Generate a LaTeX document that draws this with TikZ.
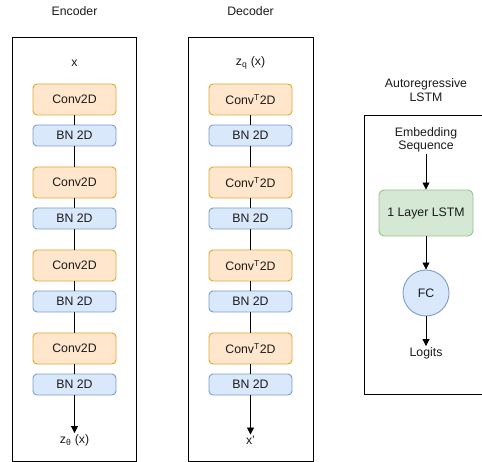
\documentclass[tikz,border=0pt]{standalone}
\usepackage{fontspec}
\setmainfont{Liberation Sans}
\usetikzlibrary{arrows.meta}
\definecolor{ofill}{HTML}{FFE6CC}
\definecolor{ostroke}{HTML}{E0A82E}
\definecolor{bfill}{HTML}{DAE8FC}
\definecolor{bstroke}{HTML}{7C9CCB}
\definecolor{gfill}{HTML}{D5E8D4}
\definecolor{gstroke}{HTML}{97C38A}
\definecolor{txt}{HTML}{1A1A1A}
\begin{document}
\begin{tikzpicture}[x=1pt,y=-1pt,
  font=\fontsize{12.3}{14.4}\selectfont, text=txt,
  frame/.style={draw=black, line width=0.9pt},
  conv/.style={draw=ostroke, fill=ofill, rounded corners=4pt, line width=0.9pt, minimum width=83pt, minimum height=31pt, inner sep=0pt},
  bn/.style={draw=bstroke, fill=bfill, rounded corners=4pt, line width=0.9pt, minimum width=83pt, minimum height=21pt, inner sep=0pt},
  lbl/.style={inner sep=1pt, align=center},
  link/.style={draw=black, line width=0.8pt},
  arr/.style={draw=black, line width=0.8pt, -{Triangle[length=7pt,width=7pt]}}
]
\useasboundingbox (0,0) rectangle (482,462);
% frames
\draw[frame] (12.5,37.5) rectangle (136.5,461);
\draw[frame] (188.5,37.5) rectangle (313,461);
\draw[frame] (364.5,115.5) rectangle (486,394);
% titles
\node[lbl] (tenc) at (74.5,11) {Encoder};
\node[lbl] (tdec) at (250.5,11) {Decoder};
\node[lbl] (tlstm) at (426,90) {Autoregressive\\[-1pt]LSTM};
% encoder
\node[lbl] (ex) at (74.5,63) {x};
\node[conv] (ec1) at (74.5,99.5) {Conv2D};
\node[bn] (eb1) at (74.5,135.5) {BN 2D};
\node[conv] (ec2) at (74.5,182.5) {Conv2D};
\node[bn] (eb2) at (74.5,218.5) {BN 2D};
\node[conv] (ec3) at (74.5,265.5) {Conv2D};
\node[bn] (eb3) at (74.5,301.5) {BN 2D};
\node[conv] (ec4) at (74.5,348.5) {Conv2D};
\node[bn] (eb4) at (74.5,384.5) {BN 2D};
\node[lbl] (ez) at (74.5,440) {z\textsubscript{θ} (x)};
\draw[link] (ec1) -- (eb1);
\draw[link] (eb1) -- (ec2);
\draw[link] (ec2) -- (eb2);
\draw[link] (eb2) -- (ec3);
\draw[link] (ec3) -- (eb3);
\draw[link] (eb3) -- (ec4);
\draw[link] (ec4) -- (eb4);
\draw[arr] (eb4) -- (ez);
% decoder
\node[lbl] (dz) at (250.5,63) {z\textsubscript{q} (x)};
\node[conv] (dc1) at (250.5,99.5) {Conv\textsuperscript{T}2D};
\node[bn] (db1) at (250.5,135.5) {BN 2D};
\node[conv] (dc2) at (250.5,182.5) {Conv\textsuperscript{T}2D};
\node[bn] (db2) at (250.5,218.5) {BN 2D};
\node[conv] (dc3) at (250.5,265.5) {Conv\textsuperscript{T}2D};
\node[bn] (db3) at (250.5,301.5) {BN 2D};
\node[conv] (dc4) at (250.5,348.5) {Conv\textsuperscript{T}2D};
\node[bn] (db4) at (250.5,384.5) {BN 2D};
\node[lbl] (dx) at (250.5,440) {x'};
\draw[link] (dc1) -- (db1);
\draw[link] (db1) -- (dc2);
\draw[link] (dc2) -- (db2);
\draw[link] (db2) -- (dc3);
\draw[link] (dc3) -- (db3);
\draw[link] (db3) -- (dc4);
\draw[link] (dc4) -- (db4);
\draw[arr] (db4) -- (dx);
% lstm
\node[lbl] (emb) at (426,140) {Embedding\\[-1pt]Sequence};
\node[draw=gstroke, fill=gfill, rounded corners=5pt, line width=0.9pt, minimum width=94pt, minimum height=46pt, inner sep=0pt] (lstm) at (426,213) {1 Layer LSTM};
\node[circle, draw=bstroke, fill=bfill, line width=0.9pt, minimum size=46pt, inner sep=0pt] (fc) at (426,293) {FC};
\node[lbl] (logits) at (426,353) {Logits};
\draw[arr] (emb) -- (lstm);
\draw[arr] (lstm) -- (fc);
\draw[arr] (fc) -- (logits);
\end{tikzpicture}
\end{document}
